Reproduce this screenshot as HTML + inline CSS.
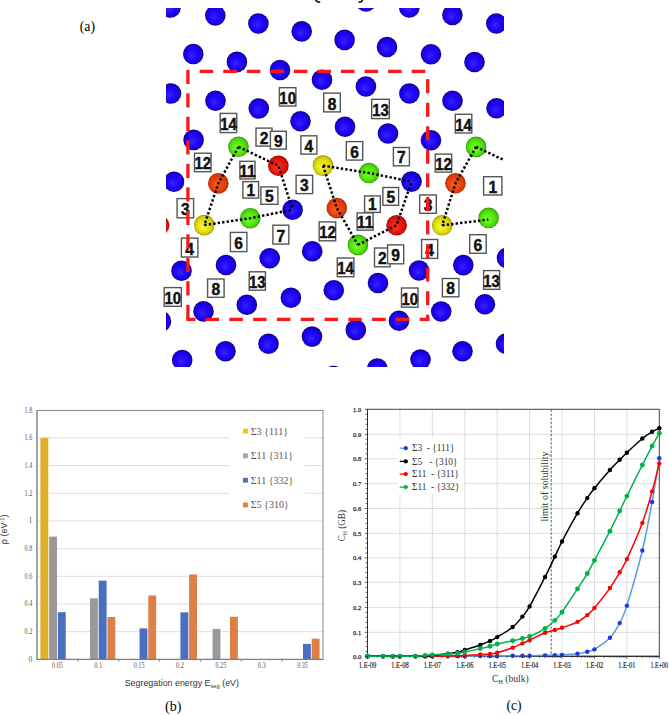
<!DOCTYPE html>
<html><head><meta charset="utf-8"><style>
html,body{margin:0;padding:0;background:#fff;}
body{width:669px;height:715px;overflow:hidden;font-family:"Liberation Sans",sans-serif;}
svg{display:block;}
</style></head><body>
<svg width="669" height="715" viewBox="0 0 669 715">
<defs>
<radialGradient id="gb" cx="0.5" cy="0.5" r="0.5" fx="0.42" fy="0.6"><stop offset="0" stop-color="#3424ff"/><stop offset="0.55" stop-color="#1f04f8"/><stop offset="0.85" stop-color="#1a00dc"/><stop offset="1" stop-color="#0e0070"/></radialGradient>
<radialGradient id="gg" cx="0.5" cy="0.5" r="0.5" fx="0.42" fy="0.6"><stop offset="0" stop-color="#72ff24"/><stop offset="0.55" stop-color="#58ea12"/><stop offset="0.85" stop-color="#46d00a"/><stop offset="1" stop-color="#2c9006"/></radialGradient>
<radialGradient id="gr" cx="0.5" cy="0.5" r="0.5" fx="0.42" fy="0.6"><stop offset="0" stop-color="#ff3a2a"/><stop offset="0.55" stop-color="#ec1a12"/><stop offset="0.85" stop-color="#d41008"/><stop offset="1" stop-color="#900800"/></radialGradient>
<radialGradient id="gy" cx="0.5" cy="0.5" r="0.5" fx="0.42" fy="0.6"><stop offset="0" stop-color="#f6f444"/><stop offset="0.55" stop-color="#e4e212"/><stop offset="0.85" stop-color="#cfcc08"/><stop offset="1" stop-color="#8e8a00"/></radialGradient>
<radialGradient id="go" cx="0.5" cy="0.5" r="0.5" fx="0.42" fy="0.6"><stop offset="0" stop-color="#ff5a22"/><stop offset="0.55" stop-color="#ec4410"/><stop offset="0.85" stop-color="#d63808"/><stop offset="1" stop-color="#9c2800"/></radialGradient>
<clipPath id="clipA"><rect x="166" y="8" width="338" height="359"/></clipPath>
</defs>
<rect x="0" y="0" width="669" height="715" fill="#fff"/>
<g clip-path="url(#clipA)">
<circle cx="170.5" cy="7.5" r="10.3" fill="url(#gb)"/>
<circle cx="215.3" cy="15.5" r="10.3" fill="url(#gb)"/>
<circle cx="258.4" cy="23.5" r="10.3" fill="url(#gb)"/>
<circle cx="301.7" cy="31.4" r="10.3" fill="url(#gb)"/>
<circle cx="344.6" cy="39.9" r="10.3" fill="url(#gb)"/>
<circle cx="387" cy="47" r="10.3" fill="url(#gb)"/>
<circle cx="431" cy="54.3" r="10.3" fill="url(#gb)"/>
<circle cx="474.5" cy="62" r="10.3" fill="url(#gb)"/>
<circle cx="366" cy="1.5" r="10.3" fill="url(#gb)"/>
<circle cx="409.3" cy="7.5" r="10.3" fill="url(#gb)"/>
<circle cx="452.4" cy="15" r="10.3" fill="url(#gb)"/>
<circle cx="496.3" cy="23.5" r="10.3" fill="url(#gb)"/>
<circle cx="193.3" cy="54" r="10.3" fill="url(#gb)"/>
<circle cx="236.9" cy="61.9" r="10.3" fill="url(#gb)"/>
<circle cx="280" cy="70" r="10.3" fill="url(#gb)"/>
<circle cx="322" cy="79.8" r="10.3" fill="url(#gb)"/>
<circle cx="365.9" cy="86.5" r="10.3" fill="url(#gb)"/>
<circle cx="409.4" cy="93.5" r="10.3" fill="url(#gb)"/>
<circle cx="452.5" cy="100.7" r="10.3" fill="url(#gb)"/>
<circle cx="496.5" cy="108.3" r="10.3" fill="url(#gb)"/>
<circle cx="171" cy="93.5" r="10.3" fill="url(#gb)"/>
<circle cx="215.5" cy="100.7" r="10.3" fill="url(#gb)"/>
<circle cx="258.8" cy="108.5" r="10.3" fill="url(#gb)"/>
<circle cx="300.5" cy="121.2" r="10.3" fill="url(#gb)"/>
<circle cx="345" cy="126.7" r="10.3" fill="url(#gb)"/>
<circle cx="388" cy="133.5" r="10.3" fill="url(#gb)"/>
<circle cx="431" cy="140.2" r="10.3" fill="url(#gb)"/>
<circle cx="193.6" cy="139.9" r="10.3" fill="url(#gb)"/>
<circle cx="174" cy="181.8" r="10.3" fill="url(#gb)"/>
<circle cx="411.5" cy="181.6" r="10.3" fill="url(#gb)"/>
<circle cx="292.6" cy="209.7" r="10.3" fill="url(#gb)"/>
<circle cx="181.5" cy="270.7" r="10.3" fill="url(#gb)"/>
<circle cx="226" cy="265" r="10.3" fill="url(#gb)"/>
<circle cx="269.7" cy="258.2" r="10.3" fill="url(#gb)"/>
<circle cx="312.2" cy="251.2" r="10.3" fill="url(#gb)"/>
<circle cx="419" cy="270.5" r="10.3" fill="url(#gb)"/>
<circle cx="463.3" cy="265.1" r="10.3" fill="url(#gb)"/>
<circle cx="507" cy="258" r="10.3" fill="url(#gb)"/>
<circle cx="161" cy="321.4" r="10.3" fill="url(#gb)"/>
<circle cx="203.5" cy="311.4" r="10.3" fill="url(#gb)"/>
<circle cx="246.8" cy="304.7" r="10.3" fill="url(#gb)"/>
<circle cx="290.9" cy="297.8" r="10.3" fill="url(#gb)"/>
<circle cx="333.8" cy="290.2" r="10.3" fill="url(#gb)"/>
<circle cx="378" cy="283" r="10.3" fill="url(#gb)"/>
<circle cx="441.2" cy="311.5" r="10.3" fill="url(#gb)"/>
<circle cx="484.9" cy="304.3" r="10.3" fill="url(#gb)"/>
<circle cx="182.2" cy="360" r="10.3" fill="url(#gb)"/>
<circle cx="225.5" cy="351.2" r="10.3" fill="url(#gb)"/>
<circle cx="268.5" cy="343.7" r="10.3" fill="url(#gb)"/>
<circle cx="312" cy="336.6" r="10.3" fill="url(#gb)"/>
<circle cx="355.8" cy="329.9" r="10.3" fill="url(#gb)"/>
<circle cx="399" cy="320.8" r="10.3" fill="url(#gb)"/>
<circle cx="420.5" cy="359.5" r="10.3" fill="url(#gb)"/>
<circle cx="462.5" cy="351.2" r="10.3" fill="url(#gb)"/>
<circle cx="506" cy="343.7" r="10.3" fill="url(#gb)"/>
<circle cx="377.3" cy="368.5" r="10.3" fill="url(#gb)"/>
<circle cx="333.5" cy="376" r="10.3" fill="url(#gb)"/>
<circle cx="238.5" cy="146.8" r="10.3" fill="url(#gg)"/>
<circle cx="278.4" cy="165.8" r="10.3" fill="url(#gr)"/>
<circle cx="323" cy="165.6" r="10.3" fill="url(#gy)"/>
<circle cx="369" cy="173" r="10.3" fill="url(#gg)"/>
<circle cx="218.3" cy="183.4" r="10.3" fill="url(#go)"/>
<circle cx="336.8" cy="208" r="10.3" fill="url(#go)"/>
<circle cx="204.3" cy="225.1" r="10.3" fill="url(#gy)"/>
<circle cx="250.2" cy="218.2" r="10.3" fill="url(#gg)"/>
<circle cx="396.6" cy="225.2" r="10.3" fill="url(#gr)"/>
<circle cx="357.9" cy="244.9" r="10.3" fill="url(#gg)"/>
<circle cx="476.1" cy="146.9" r="10.3" fill="url(#gg)"/>
<circle cx="455.5" cy="183.3" r="10.3" fill="url(#go)"/>
<circle cx="442.2" cy="225.3" r="10.3" fill="url(#gy)"/>
<circle cx="488.6" cy="217.9" r="10.3" fill="url(#gg)"/>
<circle cx="159.1" cy="225.2" r="10.3" fill="url(#gr)"/>
<path d="M238.5,146.8 L278.4,165.8 L292.6,209.7" fill="none" stroke="#000" stroke-width="2.5" stroke-dasharray="2.4 2.1"/>
<path d="M238.5,146.8 L218.3,183.4 L204.3,225.1" fill="none" stroke="#000" stroke-width="2.5" stroke-dasharray="2.4 2.1"/>
<path d="M204.3,225.1 L250.2,218.2 L292.6,209.7" fill="none" stroke="#000" stroke-width="2.5" stroke-dasharray="2.4 2.1"/>
<path d="M323,165.6 L369,173 L411.5,181.6" fill="none" stroke="#000" stroke-width="2.5" stroke-dasharray="2.4 2.1"/>
<path d="M323,165.6 L336.8,208 L357.9,244.9" fill="none" stroke="#000" stroke-width="2.5" stroke-dasharray="2.4 2.1"/>
<path d="M357.9,244.9 L396.6,225.2 L411.5,181.6" fill="none" stroke="#000" stroke-width="2.5" stroke-dasharray="2.4 2.1"/>
<path d="M476.1,146.9 L516,165.8" fill="none" stroke="#000" stroke-width="2.5" stroke-dasharray="2.4 2.1"/>
<path d="M476.1,146.9 L455.5,183.3 L442.2,225.3" fill="none" stroke="#000" stroke-width="2.5" stroke-dasharray="2.4 2.1"/>
<path d="M442.2,225.3 L488.3,219.6" fill="none" stroke="#000" stroke-width="2.5" stroke-dasharray="2.4 2.1"/>
</g>
<rect x="279.40" y="87.70" width="16.50" height="18.30" fill="#fff" stroke="#555" stroke-width="1.4"/>
<text x="279.35" y="103.60" font-family='"Liberation Sans", sans-serif' font-weight="bold" font-size="16.8" fill="#111" stroke="#111" stroke-width="0.45" textLength="16.6" lengthAdjust="spacingAndGlyphs">10</text>
<rect x="323.70" y="93.10" width="16.60" height="18.80" fill="#fff" stroke="#555" stroke-width="1.4"/>
<text x="327.65" y="109.50" font-family='"Liberation Sans", sans-serif' font-weight="bold" font-size="16.8" fill="#111" stroke="#111" stroke-width="0.45" textLength="8.7" lengthAdjust="spacingAndGlyphs">8</text>
<rect x="371.70" y="99.30" width="17.60" height="19.30" fill="#fff" stroke="#555" stroke-width="1.4"/>
<text x="372.20" y="116.20" font-family='"Liberation Sans", sans-serif' font-weight="bold" font-size="16.8" fill="#111" stroke="#111" stroke-width="0.45" textLength="16.6" lengthAdjust="spacingAndGlyphs">13</text>
<rect x="220.20" y="113.40" width="16.50" height="19.20" fill="#fff" stroke="#555" stroke-width="1.4"/>
<text x="220.15" y="130.20" font-family='"Liberation Sans", sans-serif' font-weight="bold" font-size="16.8" fill="#111" stroke="#111" stroke-width="0.45" textLength="16.6" lengthAdjust="spacingAndGlyphs">14</text>
<rect x="256.00" y="128.10" width="16.00" height="18.00" fill="#fff" stroke="#555" stroke-width="1.4"/>
<text x="259.65" y="143.70" font-family='"Liberation Sans", sans-serif' font-weight="bold" font-size="16.8" fill="#111" stroke="#111" stroke-width="0.45" textLength="8.7" lengthAdjust="spacingAndGlyphs">2</text>
<rect x="270.40" y="131.30" width="15.90" height="17.80" fill="#fff" stroke="#555" stroke-width="1.4"/>
<text x="274.00" y="146.70" font-family='"Liberation Sans", sans-serif' font-weight="bold" font-size="16.8" fill="#111" stroke="#111" stroke-width="0.45" textLength="8.7" lengthAdjust="spacingAndGlyphs">9</text>
<rect x="300.90" y="135.80" width="16.00" height="18.30" fill="#fff" stroke="#555" stroke-width="1.4"/>
<text x="304.55" y="151.70" font-family='"Liberation Sans", sans-serif' font-weight="bold" font-size="16.8" fill="#111" stroke="#111" stroke-width="0.45" textLength="8.7" lengthAdjust="spacingAndGlyphs">4</text>
<rect x="346.30" y="141.60" width="16.40" height="18.50" fill="#fff" stroke="#555" stroke-width="1.4"/>
<text x="350.15" y="157.70" font-family='"Liberation Sans", sans-serif' font-weight="bold" font-size="16.8" fill="#111" stroke="#111" stroke-width="0.45" textLength="8.7" lengthAdjust="spacingAndGlyphs">6</text>
<rect x="393.40" y="147.50" width="16.00" height="18.30" fill="#fff" stroke="#555" stroke-width="1.4"/>
<text x="397.05" y="163.40" font-family='"Liberation Sans", sans-serif' font-weight="bold" font-size="16.8" fill="#111" stroke="#111" stroke-width="0.45" textLength="8.7" lengthAdjust="spacingAndGlyphs">7</text>
<rect x="194.50" y="153.20" width="16.50" height="18.50" fill="#fff" stroke="#555" stroke-width="1.4"/>
<text x="194.45" y="169.30" font-family='"Liberation Sans", sans-serif' font-weight="bold" font-size="16.8" fill="#111" stroke="#111" stroke-width="0.45" textLength="16.6" lengthAdjust="spacingAndGlyphs">12</text>
<rect x="239.90" y="161.30" width="15.10" height="17.60" fill="#fff" stroke="#555" stroke-width="1.4"/>
<text x="239.15" y="176.50" font-family='"Liberation Sans", sans-serif' font-weight="bold" font-size="16.8" fill="#111" stroke="#111" stroke-width="0.45" textLength="16.6" lengthAdjust="spacingAndGlyphs">11</text>
<rect x="242.90" y="181.60" width="15.70" height="16.50" fill="#fff" stroke="#555" stroke-width="1.4"/>
<text x="246.40" y="195.70" font-family='"Liberation Sans", sans-serif' font-weight="bold" font-size="16.8" fill="#111" stroke="#111" stroke-width="0.45" textLength="8.7" lengthAdjust="spacingAndGlyphs">1</text>
<rect x="260.90" y="186.90" width="17.00" height="17.40" fill="#fff" stroke="#555" stroke-width="1.4"/>
<text x="265.05" y="201.90" font-family='"Liberation Sans", sans-serif' font-weight="bold" font-size="16.8" fill="#111" stroke="#111" stroke-width="0.45" textLength="8.7" lengthAdjust="spacingAndGlyphs">5</text>
<rect x="177.10" y="198.60" width="16.50" height="19.20" fill="#fff" stroke="#555" stroke-width="1.4"/>
<text x="181.00" y="215.40" font-family='"Liberation Sans", sans-serif' font-weight="bold" font-size="16.8" fill="#111" stroke="#111" stroke-width="0.45" textLength="8.7" lengthAdjust="spacingAndGlyphs">3</text>
<rect x="296.10" y="175.30" width="16.50" height="18.30" fill="#fff" stroke="#555" stroke-width="1.4"/>
<text x="300.00" y="191.20" font-family='"Liberation Sans", sans-serif' font-weight="bold" font-size="16.8" fill="#111" stroke="#111" stroke-width="0.45" textLength="8.7" lengthAdjust="spacingAndGlyphs">3</text>
<rect x="364.60" y="195.90" width="15.70" height="16.50" fill="#fff" stroke="#555" stroke-width="1.4"/>
<text x="368.10" y="210.00" font-family='"Liberation Sans", sans-serif' font-weight="bold" font-size="16.8" fill="#111" stroke="#111" stroke-width="0.45" textLength="8.7" lengthAdjust="spacingAndGlyphs">1</text>
<rect x="382.90" y="187.50" width="15.70" height="17.80" fill="#fff" stroke="#555" stroke-width="1.4"/>
<text x="386.40" y="202.90" font-family='"Liberation Sans", sans-serif' font-weight="bold" font-size="16.8" fill="#111" stroke="#111" stroke-width="0.45" textLength="8.7" lengthAdjust="spacingAndGlyphs">5</text>
<rect x="357.10" y="212.90" width="16.00" height="17.20" fill="#fff" stroke="#555" stroke-width="1.4"/>
<text x="356.80" y="227.70" font-family='"Liberation Sans", sans-serif' font-weight="bold" font-size="16.8" fill="#111" stroke="#111" stroke-width="0.45" textLength="16.6" lengthAdjust="spacingAndGlyphs">11</text>
<rect x="319.20" y="221.90" width="16.50" height="18.90" fill="#fff" stroke="#555" stroke-width="1.4"/>
<text x="319.15" y="238.40" font-family='"Liberation Sans", sans-serif' font-weight="bold" font-size="16.8" fill="#111" stroke="#111" stroke-width="0.45" textLength="16.6" lengthAdjust="spacingAndGlyphs">12</text>
<rect x="455.30" y="114.30" width="16.50" height="18.70" fill="#fff" stroke="#555" stroke-width="1.4"/>
<text x="455.25" y="130.60" font-family='"Liberation Sans", sans-serif' font-weight="bold" font-size="16.8" fill="#111" stroke="#111" stroke-width="0.45" textLength="16.6" lengthAdjust="spacingAndGlyphs">14</text>
<rect x="435.20" y="154.10" width="16.50" height="18.00" fill="#fff" stroke="#555" stroke-width="1.4"/>
<text x="435.15" y="169.70" font-family='"Liberation Sans", sans-serif' font-weight="bold" font-size="16.8" fill="#111" stroke="#111" stroke-width="0.45" textLength="16.6" lengthAdjust="spacingAndGlyphs">12</text>
<rect x="483.60" y="176.70" width="18.30" height="18.30" fill="#fff" stroke="#555" stroke-width="1.4"/>
<text x="488.40" y="192.60" font-family='"Liberation Sans", sans-serif' font-weight="bold" font-size="16.8" fill="#111" stroke="#111" stroke-width="0.45" textLength="8.7" lengthAdjust="spacingAndGlyphs">1</text>
<rect x="419.70" y="195.00" width="16.60" height="18.30" fill="#fff" stroke="#555" stroke-width="1.4"/>
<text x="423.65" y="210.90" font-family='"Liberation Sans", sans-serif' font-weight="bold" font-size="16.8" fill="#111" stroke="#111" stroke-width="0.45" textLength="8.7" lengthAdjust="spacingAndGlyphs">3</text>
<rect x="181.40" y="238.10" width="16.50" height="18.90" fill="#fff" stroke="#555" stroke-width="1.4"/>
<text x="185.30" y="254.60" font-family='"Liberation Sans", sans-serif' font-weight="bold" font-size="16.8" fill="#111" stroke="#111" stroke-width="0.45" textLength="8.7" lengthAdjust="spacingAndGlyphs">4</text>
<rect x="230.40" y="232.40" width="16.50" height="19.20" fill="#fff" stroke="#555" stroke-width="1.4"/>
<text x="234.30" y="249.20" font-family='"Liberation Sans", sans-serif' font-weight="bold" font-size="16.8" fill="#111" stroke="#111" stroke-width="0.45" textLength="8.7" lengthAdjust="spacingAndGlyphs">6</text>
<rect x="272.90" y="225.20" width="15.90" height="18.90" fill="#fff" stroke="#555" stroke-width="1.4"/>
<text x="276.50" y="241.70" font-family='"Liberation Sans", sans-serif' font-weight="bold" font-size="16.8" fill="#111" stroke="#111" stroke-width="0.45" textLength="8.7" lengthAdjust="spacingAndGlyphs">7</text>
<rect x="207.60" y="279.00" width="16.50" height="18.30" fill="#fff" stroke="#555" stroke-width="1.4"/>
<text x="211.50" y="294.90" font-family='"Liberation Sans", sans-serif' font-weight="bold" font-size="16.8" fill="#111" stroke="#111" stroke-width="0.45" textLength="8.7" lengthAdjust="spacingAndGlyphs">8</text>
<rect x="249.20" y="271.80" width="16.20" height="18.40" fill="#fff" stroke="#555" stroke-width="1.4"/>
<text x="249.00" y="287.80" font-family='"Liberation Sans", sans-serif' font-weight="bold" font-size="16.8" fill="#111" stroke="#111" stroke-width="0.45" textLength="16.6" lengthAdjust="spacingAndGlyphs">13</text>
<rect x="164.20" y="287.60" width="17.10" height="18.70" fill="#fff" stroke="#555" stroke-width="1.4"/>
<text x="164.45" y="303.90" font-family='"Liberation Sans", sans-serif' font-weight="bold" font-size="16.8" fill="#111" stroke="#111" stroke-width="0.45" textLength="16.6" lengthAdjust="spacingAndGlyphs">10</text>
<rect x="337.30" y="258.00" width="16.60" height="18.70" fill="#fff" stroke="#555" stroke-width="1.4"/>
<text x="337.30" y="274.30" font-family='"Liberation Sans", sans-serif' font-weight="bold" font-size="16.8" fill="#111" stroke="#111" stroke-width="0.45" textLength="16.6" lengthAdjust="spacingAndGlyphs">14</text>
<rect x="374.50" y="248.00" width="15.60" height="18.80" fill="#fff" stroke="#555" stroke-width="1.4"/>
<text x="377.95" y="264.40" font-family='"Liberation Sans", sans-serif' font-weight="bold" font-size="16.8" fill="#111" stroke="#111" stroke-width="0.45" textLength="8.7" lengthAdjust="spacingAndGlyphs">2</text>
<rect x="387.60" y="244.90" width="16.10" height="18.90" fill="#fff" stroke="#555" stroke-width="1.4"/>
<text x="391.30" y="261.40" font-family='"Liberation Sans", sans-serif' font-weight="bold" font-size="16.8" fill="#111" stroke="#111" stroke-width="0.45" textLength="8.7" lengthAdjust="spacingAndGlyphs">9</text>
<rect x="421.60" y="239.50" width="16.10" height="18.90" fill="#fff" stroke="#555" stroke-width="1.4"/>
<text x="425.30" y="256.00" font-family='"Liberation Sans", sans-serif' font-weight="bold" font-size="16.8" fill="#111" stroke="#111" stroke-width="0.45" textLength="8.7" lengthAdjust="spacingAndGlyphs">4</text>
<rect x="469.70" y="234.70" width="16.50" height="18.60" fill="#fff" stroke="#555" stroke-width="1.4"/>
<text x="473.60" y="250.90" font-family='"Liberation Sans", sans-serif' font-weight="bold" font-size="16.8" fill="#111" stroke="#111" stroke-width="0.45" textLength="8.7" lengthAdjust="spacingAndGlyphs">6</text>
<rect x="442.40" y="278.50" width="16.50" height="18.30" fill="#fff" stroke="#555" stroke-width="1.4"/>
<text x="446.30" y="294.40" font-family='"Liberation Sans", sans-serif' font-weight="bold" font-size="16.8" fill="#111" stroke="#111" stroke-width="0.45" textLength="8.7" lengthAdjust="spacingAndGlyphs">8</text>
<rect x="483.60" y="270.60" width="16.00" height="18.70" fill="#fff" stroke="#555" stroke-width="1.4"/>
<text x="483.30" y="286.90" font-family='"Liberation Sans", sans-serif' font-weight="bold" font-size="16.8" fill="#111" stroke="#111" stroke-width="0.45" textLength="16.6" lengthAdjust="spacingAndGlyphs">13</text>
<rect x="401.50" y="288.00" width="16.50" height="19.20" fill="#fff" stroke="#555" stroke-width="1.4"/>
<text x="401.45" y="304.80" font-family='"Liberation Sans", sans-serif' font-weight="bold" font-size="16.8" fill="#111" stroke="#111" stroke-width="0.45" textLength="16.6" lengthAdjust="spacingAndGlyphs">10</text>
<g stroke="#f51a1a" stroke-width="3.3" fill="none">
<line x1="187.9" y1="69.8" x2="187.9" y2="84.0"/>
<line x1="187.9" y1="93.3" x2="187.9" y2="107.5"/>
<line x1="187.9" y1="116.8" x2="187.9" y2="131.0"/>
<line x1="187.9" y1="140.3" x2="187.9" y2="154.5"/>
<line x1="187.9" y1="163.8" x2="187.9" y2="178.0"/>
<line x1="187.9" y1="187.3" x2="187.9" y2="201.5"/>
<line x1="187.9" y1="210.8" x2="187.9" y2="225.0"/>
<line x1="187.9" y1="234.3" x2="187.9" y2="248.5"/>
<line x1="187.9" y1="257.8" x2="187.9" y2="272.0"/>
<line x1="187.9" y1="281.3" x2="187.9" y2="295.5"/>
<line x1="187.9" y1="304.8" x2="187.9" y2="319.0"/>
<line x1="199.7" y1="71.4" x2="213.2" y2="71.4"/>
<line x1="223.2" y1="71.4" x2="236.8" y2="71.4"/>
<line x1="246.8" y1="71.4" x2="260.3" y2="71.4"/>
<line x1="270.4" y1="71.4" x2="283.9" y2="71.4"/>
<line x1="293.9" y1="71.4" x2="307.4" y2="71.4"/>
<line x1="317.5" y1="71.4" x2="331.0" y2="71.4"/>
<line x1="341.0" y1="71.4" x2="354.5" y2="71.4"/>
<line x1="364.6" y1="71.4" x2="378.1" y2="71.4"/>
<line x1="388.1" y1="71.4" x2="401.6" y2="71.4"/>
<line x1="411.7" y1="71.4" x2="425.2" y2="71.4"/>
<line x1="427.7" y1="79.2" x2="427.7" y2="93.2"/>
<line x1="427.7" y1="102.8" x2="427.7" y2="116.8"/>
<line x1="427.7" y1="126.3" x2="427.7" y2="140.3"/>
<line x1="427.7" y1="149.8" x2="427.7" y2="163.8"/>
<line x1="427.7" y1="173.4" x2="427.7" y2="187.4"/>
<line x1="427.7" y1="197.0" x2="427.7" y2="211.0"/>
<line x1="427.7" y1="220.5" x2="427.7" y2="234.5"/>
<line x1="427.7" y1="244.1" x2="427.7" y2="258.1"/>
<line x1="427.7" y1="267.6" x2="427.7" y2="281.6"/>
<line x1="427.7" y1="291.2" x2="427.7" y2="305.2"/>
<line x1="427.7" y1="314.7" x2="427.7" y2="320.9"/>
<line x1="205.5" y1="319.4" x2="219.0" y2="319.4"/>
<line x1="229.3" y1="319.4" x2="242.8" y2="319.4"/>
<line x1="253.1" y1="319.4" x2="266.6" y2="319.4"/>
<line x1="276.9" y1="319.4" x2="290.4" y2="319.4"/>
<line x1="300.7" y1="319.4" x2="314.2" y2="319.4"/>
<line x1="324.5" y1="319.4" x2="338.0" y2="319.4"/>
<line x1="348.3" y1="319.4" x2="361.8" y2="319.4"/>
<line x1="372.1" y1="319.4" x2="385.6" y2="319.4"/>
<line x1="395.9" y1="319.4" x2="409.4" y2="319.4"/>
<line x1="419.7" y1="319.4" x2="429.3" y2="319.4"/>
<line x1="186.4" y1="319.4" x2="195.5" y2="319.4"/>
</g>
<text x="79.70" y="30.80" font-family='"Liberation Serif", serif' font-size="14.5" fill="#000" textLength="15.30" lengthAdjust="spacingAndGlyphs" >(a)</text>
<line x1="37.0" y1="631.71" x2="323.0" y2="631.71" stroke="#d9d9d9" stroke-width="0.9"/>
<line x1="37.0" y1="604.02" x2="323.0" y2="604.02" stroke="#d9d9d9" stroke-width="0.9"/>
<line x1="37.0" y1="576.33" x2="323.0" y2="576.33" stroke="#d9d9d9" stroke-width="0.9"/>
<line x1="37.0" y1="548.64" x2="323.0" y2="548.64" stroke="#d9d9d9" stroke-width="0.9"/>
<line x1="37.0" y1="520.96" x2="323.0" y2="520.96" stroke="#d9d9d9" stroke-width="0.9"/>
<line x1="37.0" y1="493.27" x2="323.0" y2="493.27" stroke="#d9d9d9" stroke-width="0.9"/>
<line x1="37.0" y1="465.58" x2="323.0" y2="465.58" stroke="#d9d9d9" stroke-width="0.9"/>
<line x1="37.0" y1="437.89" x2="323.0" y2="437.89" stroke="#d9d9d9" stroke-width="0.9"/>
<rect x="229.4" y="418" width="75.2" height="100" fill="#fff"/>
<rect x="40.40" y="437.89" width="7.9" height="221.51" fill="#e0b02a"/>
<rect x="49.12" y="536.60" width="7.9" height="122.80" fill="#999999"/>
<rect x="57.84" y="612.19" width="7.9" height="47.21" fill="#4a6fbf"/>
<rect x="89.98" y="598.35" width="7.9" height="61.05" fill="#999999"/>
<rect x="98.70" y="580.63" width="7.9" height="78.77" fill="#4a6fbf"/>
<rect x="107.42" y="617.04" width="7.9" height="42.36" fill="#dc8048"/>
<rect x="139.55" y="628.39" width="7.9" height="31.01" fill="#4a6fbf"/>
<rect x="148.27" y="595.44" width="7.9" height="63.96" fill="#dc8048"/>
<rect x="180.41" y="612.33" width="7.9" height="47.07" fill="#4a6fbf"/>
<rect x="189.13" y="574.40" width="7.9" height="85.00" fill="#dc8048"/>
<rect x="212.55" y="628.94" width="7.9" height="30.46" fill="#999999"/>
<rect x="229.99" y="616.76" width="7.9" height="42.64" fill="#dc8048"/>
<rect x="302.98" y="643.89" width="7.9" height="15.51" fill="#4a6fbf"/>
<rect x="311.70" y="638.63" width="7.9" height="20.77" fill="#dc8048"/>
<rect x="37.0" y="410.4" width="286.0" height="249.2" fill="none" stroke="#7a7a7a" stroke-width="0.9"/>
<line x1="36.9" y1="410.2" x2="36.9" y2="659.4" stroke="#8a8a8a" stroke-width="1.1"/>
<line x1="37.0" y1="659.4" x2="323.0" y2="659.4" stroke="#7f7f7f" stroke-width="1.4"/>
<line x1="77.86" y1="659.4" x2="77.86" y2="661.6" stroke="#7f7f7f" stroke-width="1"/>
<line x1="118.71" y1="659.4" x2="118.71" y2="661.6" stroke="#7f7f7f" stroke-width="1"/>
<line x1="159.57" y1="659.4" x2="159.57" y2="661.6" stroke="#7f7f7f" stroke-width="1"/>
<line x1="200.43" y1="659.4" x2="200.43" y2="661.6" stroke="#7f7f7f" stroke-width="1"/>
<line x1="241.29" y1="659.4" x2="241.29" y2="661.6" stroke="#7f7f7f" stroke-width="1"/>
<line x1="282.14" y1="659.4" x2="282.14" y2="661.6" stroke="#7f7f7f" stroke-width="1"/>
<text x="32.40" y="661.80" font-family='"Liberation Serif", serif' font-size="7.6" fill="#555" text-anchor="end" >0</text>
<text x="24.60" y="634.11" font-family='"Liberation Serif", serif' font-size="7.6" fill="#555" textLength="7.80" lengthAdjust="spacingAndGlyphs" >0.2</text>
<text x="24.60" y="606.42" font-family='"Liberation Serif", serif' font-size="7.6" fill="#555" textLength="7.80" lengthAdjust="spacingAndGlyphs" >0.4</text>
<text x="24.60" y="578.73" font-family='"Liberation Serif", serif' font-size="7.6" fill="#555" textLength="7.80" lengthAdjust="spacingAndGlyphs" >0.6</text>
<text x="24.60" y="551.04" font-family='"Liberation Serif", serif' font-size="7.6" fill="#555" textLength="7.80" lengthAdjust="spacingAndGlyphs" >0.8</text>
<text x="32.40" y="523.36" font-family='"Liberation Serif", serif' font-size="7.6" fill="#555" text-anchor="end" >1</text>
<text x="24.60" y="495.67" font-family='"Liberation Serif", serif' font-size="7.6" fill="#555" textLength="7.80" lengthAdjust="spacingAndGlyphs" >1.2</text>
<text x="24.60" y="467.98" font-family='"Liberation Serif", serif' font-size="7.6" fill="#555" textLength="7.80" lengthAdjust="spacingAndGlyphs" >1.4</text>
<text x="24.60" y="440.29" font-family='"Liberation Serif", serif' font-size="7.6" fill="#555" textLength="7.80" lengthAdjust="spacingAndGlyphs" >1.6</text>
<text x="24.60" y="412.60" font-family='"Liberation Serif", serif' font-size="7.6" fill="#555" textLength="7.80" lengthAdjust="spacingAndGlyphs" >1.8</text>
<text x="52.08" y="668.40" font-family='"Liberation Serif", serif' font-size="7.4" fill="#555" textLength="10.70" lengthAdjust="spacingAndGlyphs" >0.05</text>
<text x="94.29" y="668.40" font-family='"Liberation Serif", serif' font-size="7.4" fill="#555" textLength="8.00" lengthAdjust="spacingAndGlyphs" >0.1</text>
<text x="133.79" y="668.40" font-family='"Liberation Serif", serif' font-size="7.4" fill="#555" textLength="10.70" lengthAdjust="spacingAndGlyphs" >0.15</text>
<text x="176.00" y="668.40" font-family='"Liberation Serif", serif' font-size="7.4" fill="#555" textLength="8.00" lengthAdjust="spacingAndGlyphs" >0.2</text>
<text x="215.51" y="668.40" font-family='"Liberation Serif", serif' font-size="7.4" fill="#555" textLength="10.70" lengthAdjust="spacingAndGlyphs" >0.25</text>
<text x="257.71" y="668.40" font-family='"Liberation Serif", serif' font-size="7.4" fill="#555" textLength="8.00" lengthAdjust="spacingAndGlyphs" >0.3</text>
<text x="297.22" y="668.40" font-family='"Liberation Serif", serif' font-size="7.4" fill="#555" textLength="10.70" lengthAdjust="spacingAndGlyphs" >0.35</text>
<rect x="243" y="428.7" width="4.9" height="4.8" fill="#ffc000"/>
<text x="250.80" y="434.50" font-family='"Liberation Serif", serif' font-size="10" fill="#595959" >Σ3 {111}</text>
<rect x="243" y="453.4" width="4.9" height="4.8" fill="#a5a5a5"/>
<text x="250.80" y="459.20" font-family='"Liberation Serif", serif' font-size="10" fill="#595959" >Σ11 {311}</text>
<rect x="243" y="477.8" width="4.9" height="4.8" fill="#4472c4"/>
<text x="250.80" y="483.60" font-family='"Liberation Serif", serif' font-size="10" fill="#595959" >Σ11 {332}</text>
<rect x="243" y="502.5" width="4.9" height="4.8" fill="#ed7d31"/>
<text x="250.80" y="508.30" font-family='"Liberation Serif", serif' font-size="10" fill="#595959" >Σ5 {310}</text>
<g transform="translate(124.7,685.9) scale(0.955,1)"><text x="0" y="0" font-family='"Liberation Sans", sans-serif' font-size="9.3" fill="#333">Segregation energy E<tspan font-size="6" dy="2">seg</tspan><tspan dy="-2"> (eV)</tspan></text></g>
<text transform="translate(7.0,544.2) rotate(-90) scale(0.94,1)" font-family='"Liberation Sans", sans-serif' font-size="9.6" fill="#333">ρ (eV<tspan font-size="6" dy="-3.5">-1</tspan><tspan dy="3.5">)</tspan></text>
<text x="165.00" y="710.80" font-family='"Liberation Serif", serif' font-size="13.8" fill="#000" textLength="16.30" lengthAdjust="spacingAndGlyphs" >(b)</text>
<line x1="399.92" y1="409.3" x2="399.92" y2="656.3" stroke="#d9d9d9" stroke-width="0.9"/>
<line x1="432.34" y1="409.3" x2="432.34" y2="656.3" stroke="#d9d9d9" stroke-width="0.9"/>
<line x1="464.77" y1="409.3" x2="464.77" y2="656.3" stroke="#d9d9d9" stroke-width="0.9"/>
<line x1="497.19" y1="409.3" x2="497.19" y2="656.3" stroke="#d9d9d9" stroke-width="0.9"/>
<line x1="529.61" y1="409.3" x2="529.61" y2="656.3" stroke="#d9d9d9" stroke-width="0.9"/>
<line x1="562.03" y1="409.3" x2="562.03" y2="656.3" stroke="#d9d9d9" stroke-width="0.9"/>
<line x1="594.46" y1="409.3" x2="594.46" y2="656.3" stroke="#d9d9d9" stroke-width="0.9"/>
<line x1="626.88" y1="409.3" x2="626.88" y2="656.3" stroke="#d9d9d9" stroke-width="0.9"/>
<line x1="367.5" y1="632.30" x2="659.3" y2="632.30" stroke="#d9d9d9" stroke-width="0.9"/>
<line x1="367.5" y1="607.40" x2="659.3" y2="607.40" stroke="#d9d9d9" stroke-width="0.9"/>
<line x1="367.5" y1="582.30" x2="659.3" y2="582.30" stroke="#d9d9d9" stroke-width="0.9"/>
<line x1="367.5" y1="557.90" x2="659.3" y2="557.90" stroke="#d9d9d9" stroke-width="0.9"/>
<line x1="367.5" y1="533.40" x2="659.3" y2="533.40" stroke="#d9d9d9" stroke-width="0.9"/>
<line x1="367.5" y1="508.50" x2="659.3" y2="508.50" stroke="#d9d9d9" stroke-width="0.9"/>
<line x1="367.5" y1="483.70" x2="659.3" y2="483.70" stroke="#d9d9d9" stroke-width="0.9"/>
<line x1="367.5" y1="458.80" x2="659.3" y2="458.80" stroke="#d9d9d9" stroke-width="0.9"/>
<line x1="367.5" y1="434.30" x2="659.3" y2="434.30" stroke="#d9d9d9" stroke-width="0.9"/>
<rect x="397.5" y="437.5" width="65.7" height="56.8" fill="#fff"/>
<line x1="551.2" y1="409.3" x2="551.2" y2="656.3" stroke="#444" stroke-width="0.85" stroke-dasharray="2.6 1.5"/>
<text transform="translate(547.9,521.5) rotate(-90)" font-family='"Liberation Serif", serif' font-size="10" fill="#333" textLength="70" lengthAdjust="spacingAndGlyphs">limit of solubility</text>
<rect x="367.5" y="409.3" width="291.79999999999995" height="246.99999999999994" fill="none" stroke="#404040" stroke-width="1"/>
<line x1="367.5" y1="409.3" x2="367.5" y2="656.3" stroke="#333" stroke-width="1.0"/>
<line x1="367.5" y1="656.3" x2="659.3" y2="656.3" stroke="#333" stroke-width="1.2"/>
<path d="M367.50,656.30 C370.08,656.30 378.76,656.30 382.97,656.30 C387.17,656.30 389.90,656.30 392.73,656.30 C395.55,656.30 396.15,656.30 399.92,656.30 C403.70,656.30 411.19,656.30 415.39,656.30 C419.60,656.30 422.33,656.30 425.15,656.30 C427.98,656.30 428.57,656.30 432.34,656.30 C436.12,656.30 443.61,656.30 447.81,656.30 C452.02,656.30 454.75,656.30 457.57,656.30 C460.40,656.30 460.99,656.34 464.77,656.30 C468.54,656.26 476.03,656.10 480.24,656.06 C484.44,656.02 487.17,656.06 490.00,656.06 C492.82,656.06 493.41,656.10 497.19,656.06 C500.97,656.02 508.45,655.86 512.66,655.82 C516.86,655.78 519.59,655.82 522.42,655.82 C525.24,655.82 525.83,655.90 529.61,655.82 C533.39,655.74 540.88,655.46 545.08,655.34 C549.29,655.22 552.02,655.18 554.84,655.10 C557.67,655.02 558.26,655.10 562.03,654.86 C565.81,654.62 573.30,654.18 577.50,653.66 C581.71,653.14 584.44,652.46 587.26,651.74 C590.09,651.02 590.68,651.66 594.46,649.34 C598.23,647.02 605.72,642.20 609.92,637.82 C614.13,633.44 616.86,628.45 619.68,623.09 C622.51,617.72 623.10,617.73 626.88,605.64 C630.65,593.55 638.14,567.82 642.35,550.55 C646.55,533.28 649.28,517.43 652.11,502.05 C654.93,486.68 658.10,465.60 659.30,458.31" fill="none" stroke="#5b9bd5" stroke-width="1.5"/>
<path d="M367.50,656.30 C370.08,656.30 378.76,656.30 382.97,656.30 C387.17,656.30 389.90,656.30 392.73,656.30 C395.55,656.30 396.15,656.30 399.92,656.30 C403.70,656.30 411.19,656.30 415.39,656.30 C419.60,656.30 422.33,656.30 425.15,656.30 C427.98,656.30 428.57,656.34 432.34,656.30 C436.12,656.26 443.61,656.14 447.81,656.06 C452.02,655.98 454.75,655.90 457.57,655.82 C460.40,655.74 460.99,655.82 464.77,655.58 C468.54,655.34 476.03,654.66 480.24,654.38 C484.44,654.10 487.17,654.18 490.00,653.90 C492.82,653.62 493.41,653.74 497.19,652.70 C500.97,651.66 508.45,649.22 512.66,647.66 C516.86,646.10 519.59,644.58 522.42,643.34 C525.24,642.10 525.83,641.98 529.61,640.22 C533.39,638.46 540.88,634.47 545.08,632.78 C549.29,631.09 552.02,630.89 554.84,630.06 C557.67,629.23 558.26,629.19 562.03,627.82 C565.81,626.45 573.30,623.96 577.50,621.84 C581.71,619.73 584.44,617.44 587.26,615.12 C590.09,612.79 590.68,612.41 594.46,607.90 C598.23,603.39 605.72,594.01 609.92,588.07 C614.13,582.14 616.86,577.12 619.68,572.30 C622.51,567.47 623.10,567.35 626.88,559.12 C630.65,550.89 638.14,534.23 642.35,522.94 C646.55,511.65 649.28,501.29 652.11,491.39 C654.93,481.49 658.10,468.17 659.30,463.53" fill="none" stroke="#ff0000" stroke-width="1.5"/>
<path d="M367.50,656.30 C370.08,656.30 378.76,656.30 382.97,656.30 C387.17,656.30 389.90,656.30 392.73,656.30 C395.55,656.30 396.15,656.30 399.92,656.30 C403.70,656.30 411.19,656.34 415.39,656.30 C419.60,656.26 422.33,656.22 425.15,656.06 C427.98,655.90 428.57,655.74 432.34,655.34 C436.12,654.94 443.61,654.18 447.81,653.66 C452.02,653.14 454.75,652.82 457.57,652.22 C460.40,651.62 460.99,651.26 464.77,650.06 C468.54,648.86 476.03,646.54 480.24,645.02 C484.44,643.50 487.17,642.26 490.00,640.94 C492.82,639.62 493.41,639.41 497.19,637.10 C500.97,634.79 508.45,630.49 512.66,627.07 C516.86,623.66 519.59,620.06 522.42,616.61 C525.24,613.17 525.83,613.01 529.61,606.40 C533.39,599.78 540.88,585.22 545.08,576.93 C549.29,568.65 552.02,562.58 554.84,556.67 C557.67,550.77 558.26,548.73 562.03,541.49 C565.81,534.24 573.30,520.46 577.50,513.23 C581.71,506.00 584.44,502.26 587.26,498.08 C590.09,493.91 590.68,492.84 594.46,488.16 C598.23,483.48 605.72,474.73 609.92,470.00 C614.13,465.28 616.86,462.68 619.68,459.80 C622.51,456.91 623.10,456.23 626.88,452.68 C630.65,449.12 638.14,441.94 642.35,438.47 C646.55,434.99 649.28,433.49 652.11,431.80 C654.93,430.11 658.10,428.88 659.30,428.30" fill="none" stroke="#000000" stroke-width="1.5"/>
<path d="M367.50,656.30 C370.08,656.30 378.76,656.30 382.97,656.30 C387.17,656.30 389.90,656.30 392.73,656.30 C395.55,656.30 396.15,656.30 399.92,656.30 C403.70,656.30 411.19,656.46 415.39,656.30 C419.60,656.14 422.33,655.58 425.15,655.34 C427.98,655.10 428.57,655.06 432.34,654.86 C436.12,654.66 443.61,654.42 447.81,654.14 C452.02,653.86 454.75,653.54 457.57,653.18 C460.40,652.82 460.99,652.74 464.77,651.98 C468.54,651.22 476.03,649.58 480.24,648.62 C484.44,647.66 487.17,646.98 490.00,646.22 C492.82,645.46 493.41,644.98 497.19,644.06 C500.97,643.14 508.45,641.62 512.66,640.70 C516.86,639.78 519.59,639.26 522.42,638.54 C525.24,637.82 525.83,638.04 529.61,636.38 C533.39,634.72 540.88,631.24 545.08,628.56 C549.29,625.89 552.02,623.09 554.84,620.35 C557.67,617.61 558.26,617.38 562.03,612.13 C565.81,606.88 573.30,595.26 577.50,588.83 C581.71,582.39 584.44,578.26 587.26,573.52 C590.09,568.77 590.68,567.40 594.46,560.34 C598.23,553.28 605.72,539.38 609.92,531.16 C614.13,522.93 616.86,516.83 619.68,510.99 C622.51,505.15 623.10,503.76 626.88,496.10 C630.65,488.44 638.14,473.37 642.35,465.02 C646.55,456.68 649.28,451.35 652.11,446.06 C654.93,440.77 658.10,435.43 659.30,433.30" fill="none" stroke="#00b050" stroke-width="1.5"/>
<circle cx="367.50" cy="656.30" r="2.2" fill="#2036e0"/>
<circle cx="382.97" cy="656.30" r="2.2" fill="#2036e0"/>
<circle cx="392.73" cy="656.30" r="2.2" fill="#2036e0"/>
<circle cx="399.92" cy="656.30" r="2.2" fill="#2036e0"/>
<circle cx="415.39" cy="656.30" r="2.2" fill="#2036e0"/>
<circle cx="425.15" cy="656.30" r="2.2" fill="#2036e0"/>
<circle cx="432.34" cy="656.30" r="2.2" fill="#2036e0"/>
<circle cx="447.81" cy="656.30" r="2.2" fill="#2036e0"/>
<circle cx="457.57" cy="656.30" r="2.2" fill="#2036e0"/>
<circle cx="464.77" cy="656.30" r="2.2" fill="#2036e0"/>
<circle cx="480.24" cy="656.06" r="2.2" fill="#2036e0"/>
<circle cx="490.00" cy="656.06" r="2.2" fill="#2036e0"/>
<circle cx="497.19" cy="656.06" r="2.2" fill="#2036e0"/>
<circle cx="512.66" cy="655.82" r="2.2" fill="#2036e0"/>
<circle cx="522.42" cy="655.82" r="2.2" fill="#2036e0"/>
<circle cx="529.61" cy="655.82" r="2.2" fill="#2036e0"/>
<circle cx="545.08" cy="655.34" r="2.2" fill="#2036e0"/>
<circle cx="554.84" cy="655.10" r="2.2" fill="#2036e0"/>
<circle cx="562.03" cy="654.86" r="2.2" fill="#2036e0"/>
<circle cx="577.50" cy="653.66" r="2.2" fill="#2036e0"/>
<circle cx="587.26" cy="651.74" r="2.2" fill="#2036e0"/>
<circle cx="594.46" cy="649.34" r="2.2" fill="#2036e0"/>
<circle cx="609.92" cy="637.82" r="2.2" fill="#2036e0"/>
<circle cx="619.68" cy="623.09" r="2.2" fill="#2036e0"/>
<circle cx="626.88" cy="605.64" r="2.2" fill="#2036e0"/>
<circle cx="642.35" cy="550.55" r="2.2" fill="#2036e0"/>
<circle cx="652.11" cy="502.05" r="2.2" fill="#2036e0"/>
<circle cx="659.30" cy="458.31" r="2.2" fill="#2036e0"/>
<circle cx="367.50" cy="656.30" r="2.2" fill="#ff0000"/>
<circle cx="382.97" cy="656.30" r="2.2" fill="#ff0000"/>
<circle cx="392.73" cy="656.30" r="2.2" fill="#ff0000"/>
<circle cx="399.92" cy="656.30" r="2.2" fill="#ff0000"/>
<circle cx="415.39" cy="656.30" r="2.2" fill="#ff0000"/>
<circle cx="425.15" cy="656.30" r="2.2" fill="#ff0000"/>
<circle cx="432.34" cy="656.30" r="2.2" fill="#ff0000"/>
<circle cx="447.81" cy="656.06" r="2.2" fill="#ff0000"/>
<circle cx="457.57" cy="655.82" r="2.2" fill="#ff0000"/>
<circle cx="464.77" cy="655.58" r="2.2" fill="#ff0000"/>
<circle cx="480.24" cy="654.38" r="2.2" fill="#ff0000"/>
<circle cx="490.00" cy="653.90" r="2.2" fill="#ff0000"/>
<circle cx="497.19" cy="652.70" r="2.2" fill="#ff0000"/>
<circle cx="512.66" cy="647.66" r="2.2" fill="#ff0000"/>
<circle cx="522.42" cy="643.34" r="2.2" fill="#ff0000"/>
<circle cx="529.61" cy="640.22" r="2.2" fill="#ff0000"/>
<circle cx="545.08" cy="632.78" r="2.2" fill="#ff0000"/>
<circle cx="554.84" cy="630.06" r="2.2" fill="#ff0000"/>
<circle cx="562.03" cy="627.82" r="2.2" fill="#ff0000"/>
<circle cx="577.50" cy="621.84" r="2.2" fill="#ff0000"/>
<circle cx="587.26" cy="615.12" r="2.2" fill="#ff0000"/>
<circle cx="594.46" cy="607.90" r="2.2" fill="#ff0000"/>
<circle cx="609.92" cy="588.07" r="2.2" fill="#ff0000"/>
<circle cx="619.68" cy="572.30" r="2.2" fill="#ff0000"/>
<circle cx="626.88" cy="559.12" r="2.2" fill="#ff0000"/>
<circle cx="642.35" cy="522.94" r="2.2" fill="#ff0000"/>
<circle cx="652.11" cy="491.39" r="2.2" fill="#ff0000"/>
<circle cx="659.30" cy="463.53" r="2.2" fill="#ff0000"/>
<circle cx="367.50" cy="656.30" r="2.2" fill="#000000"/>
<circle cx="382.97" cy="656.30" r="2.2" fill="#000000"/>
<circle cx="392.73" cy="656.30" r="2.2" fill="#000000"/>
<circle cx="399.92" cy="656.30" r="2.2" fill="#000000"/>
<circle cx="415.39" cy="656.30" r="2.2" fill="#000000"/>
<circle cx="425.15" cy="656.06" r="2.2" fill="#000000"/>
<circle cx="432.34" cy="655.34" r="2.2" fill="#000000"/>
<circle cx="447.81" cy="653.66" r="2.2" fill="#000000"/>
<circle cx="457.57" cy="652.22" r="2.2" fill="#000000"/>
<circle cx="464.77" cy="650.06" r="2.2" fill="#000000"/>
<circle cx="480.24" cy="645.02" r="2.2" fill="#000000"/>
<circle cx="490.00" cy="640.94" r="2.2" fill="#000000"/>
<circle cx="497.19" cy="637.10" r="2.2" fill="#000000"/>
<circle cx="512.66" cy="627.07" r="2.2" fill="#000000"/>
<circle cx="522.42" cy="616.61" r="2.2" fill="#000000"/>
<circle cx="529.61" cy="606.40" r="2.2" fill="#000000"/>
<circle cx="545.08" cy="576.93" r="2.2" fill="#000000"/>
<circle cx="554.84" cy="556.67" r="2.2" fill="#000000"/>
<circle cx="562.03" cy="541.49" r="2.2" fill="#000000"/>
<circle cx="577.50" cy="513.23" r="2.2" fill="#000000"/>
<circle cx="587.26" cy="498.08" r="2.2" fill="#000000"/>
<circle cx="594.46" cy="488.16" r="2.2" fill="#000000"/>
<circle cx="609.92" cy="470.00" r="2.2" fill="#000000"/>
<circle cx="619.68" cy="459.80" r="2.2" fill="#000000"/>
<circle cx="626.88" cy="452.68" r="2.2" fill="#000000"/>
<circle cx="642.35" cy="438.47" r="2.2" fill="#000000"/>
<circle cx="652.11" cy="431.80" r="2.2" fill="#000000"/>
<circle cx="659.30" cy="428.30" r="2.2" fill="#000000"/>
<circle cx="367.50" cy="656.30" r="2.45" fill="#00b050"/>
<circle cx="382.97" cy="656.30" r="2.45" fill="#00b050"/>
<circle cx="392.73" cy="656.30" r="2.45" fill="#00b050"/>
<circle cx="399.92" cy="656.30" r="2.45" fill="#00b050"/>
<circle cx="415.39" cy="656.30" r="2.45" fill="#00b050"/>
<circle cx="425.15" cy="655.34" r="2.45" fill="#00b050"/>
<circle cx="432.34" cy="654.86" r="2.45" fill="#00b050"/>
<circle cx="447.81" cy="654.14" r="2.45" fill="#00b050"/>
<circle cx="457.57" cy="653.18" r="2.45" fill="#00b050"/>
<circle cx="464.77" cy="651.98" r="2.45" fill="#00b050"/>
<circle cx="480.24" cy="648.62" r="2.45" fill="#00b050"/>
<circle cx="490.00" cy="646.22" r="2.45" fill="#00b050"/>
<circle cx="497.19" cy="644.06" r="2.45" fill="#00b050"/>
<circle cx="512.66" cy="640.70" r="2.45" fill="#00b050"/>
<circle cx="522.42" cy="638.54" r="2.45" fill="#00b050"/>
<circle cx="529.61" cy="636.38" r="2.45" fill="#00b050"/>
<circle cx="545.08" cy="628.56" r="2.45" fill="#00b050"/>
<circle cx="554.84" cy="620.35" r="2.45" fill="#00b050"/>
<circle cx="562.03" cy="612.13" r="2.45" fill="#00b050"/>
<circle cx="577.50" cy="588.83" r="2.45" fill="#00b050"/>
<circle cx="587.26" cy="573.52" r="2.45" fill="#00b050"/>
<circle cx="594.46" cy="560.34" r="2.45" fill="#00b050"/>
<circle cx="609.92" cy="531.16" r="2.45" fill="#00b050"/>
<circle cx="619.68" cy="510.99" r="2.45" fill="#00b050"/>
<circle cx="626.88" cy="496.10" r="2.45" fill="#00b050"/>
<circle cx="642.35" cy="465.02" r="2.45" fill="#00b050"/>
<circle cx="652.11" cy="446.06" r="2.45" fill="#00b050"/>
<circle cx="659.30" cy="433.30" r="2.45" fill="#00b050"/>
<line x1="364.70" y1="656.30" x2="367.5" y2="656.30" stroke="#222" stroke-width="0.7"/>
<line x1="365.50" y1="651.50" x2="367.5" y2="651.50" stroke="#222" stroke-width="0.7"/>
<line x1="365.50" y1="646.70" x2="367.5" y2="646.70" stroke="#222" stroke-width="0.7"/>
<line x1="365.50" y1="641.90" x2="367.5" y2="641.90" stroke="#222" stroke-width="0.7"/>
<line x1="365.50" y1="637.10" x2="367.5" y2="637.10" stroke="#222" stroke-width="0.7"/>
<line x1="364.70" y1="632.30" x2="367.5" y2="632.30" stroke="#222" stroke-width="0.7"/>
<line x1="365.50" y1="627.32" x2="367.5" y2="627.32" stroke="#222" stroke-width="0.7"/>
<line x1="365.50" y1="622.34" x2="367.5" y2="622.34" stroke="#222" stroke-width="0.7"/>
<line x1="365.50" y1="617.36" x2="367.5" y2="617.36" stroke="#222" stroke-width="0.7"/>
<line x1="365.50" y1="612.38" x2="367.5" y2="612.38" stroke="#222" stroke-width="0.7"/>
<line x1="364.70" y1="607.40" x2="367.5" y2="607.40" stroke="#222" stroke-width="0.7"/>
<line x1="365.50" y1="602.38" x2="367.5" y2="602.38" stroke="#222" stroke-width="0.7"/>
<line x1="365.50" y1="597.36" x2="367.5" y2="597.36" stroke="#222" stroke-width="0.7"/>
<line x1="365.50" y1="592.34" x2="367.5" y2="592.34" stroke="#222" stroke-width="0.7"/>
<line x1="365.50" y1="587.32" x2="367.5" y2="587.32" stroke="#222" stroke-width="0.7"/>
<line x1="364.70" y1="582.30" x2="367.5" y2="582.30" stroke="#222" stroke-width="0.7"/>
<line x1="365.50" y1="577.42" x2="367.5" y2="577.42" stroke="#222" stroke-width="0.7"/>
<line x1="365.50" y1="572.54" x2="367.5" y2="572.54" stroke="#222" stroke-width="0.7"/>
<line x1="365.50" y1="567.66" x2="367.5" y2="567.66" stroke="#222" stroke-width="0.7"/>
<line x1="365.50" y1="562.78" x2="367.5" y2="562.78" stroke="#222" stroke-width="0.7"/>
<line x1="364.70" y1="557.90" x2="367.5" y2="557.90" stroke="#222" stroke-width="0.7"/>
<line x1="365.50" y1="553.00" x2="367.5" y2="553.00" stroke="#222" stroke-width="0.7"/>
<line x1="365.50" y1="548.10" x2="367.5" y2="548.10" stroke="#222" stroke-width="0.7"/>
<line x1="365.50" y1="543.20" x2="367.5" y2="543.20" stroke="#222" stroke-width="0.7"/>
<line x1="365.50" y1="538.30" x2="367.5" y2="538.30" stroke="#222" stroke-width="0.7"/>
<line x1="364.70" y1="533.40" x2="367.5" y2="533.40" stroke="#222" stroke-width="0.7"/>
<line x1="365.50" y1="528.42" x2="367.5" y2="528.42" stroke="#222" stroke-width="0.7"/>
<line x1="365.50" y1="523.44" x2="367.5" y2="523.44" stroke="#222" stroke-width="0.7"/>
<line x1="365.50" y1="518.46" x2="367.5" y2="518.46" stroke="#222" stroke-width="0.7"/>
<line x1="365.50" y1="513.48" x2="367.5" y2="513.48" stroke="#222" stroke-width="0.7"/>
<line x1="364.70" y1="508.50" x2="367.5" y2="508.50" stroke="#222" stroke-width="0.7"/>
<line x1="365.50" y1="503.54" x2="367.5" y2="503.54" stroke="#222" stroke-width="0.7"/>
<line x1="365.50" y1="498.58" x2="367.5" y2="498.58" stroke="#222" stroke-width="0.7"/>
<line x1="365.50" y1="493.62" x2="367.5" y2="493.62" stroke="#222" stroke-width="0.7"/>
<line x1="365.50" y1="488.66" x2="367.5" y2="488.66" stroke="#222" stroke-width="0.7"/>
<line x1="364.70" y1="483.70" x2="367.5" y2="483.70" stroke="#222" stroke-width="0.7"/>
<line x1="365.50" y1="478.72" x2="367.5" y2="478.72" stroke="#222" stroke-width="0.7"/>
<line x1="365.50" y1="473.74" x2="367.5" y2="473.74" stroke="#222" stroke-width="0.7"/>
<line x1="365.50" y1="468.76" x2="367.5" y2="468.76" stroke="#222" stroke-width="0.7"/>
<line x1="365.50" y1="463.78" x2="367.5" y2="463.78" stroke="#222" stroke-width="0.7"/>
<line x1="364.70" y1="458.80" x2="367.5" y2="458.80" stroke="#222" stroke-width="0.7"/>
<line x1="365.50" y1="453.90" x2="367.5" y2="453.90" stroke="#222" stroke-width="0.7"/>
<line x1="365.50" y1="449.00" x2="367.5" y2="449.00" stroke="#222" stroke-width="0.7"/>
<line x1="365.50" y1="444.10" x2="367.5" y2="444.10" stroke="#222" stroke-width="0.7"/>
<line x1="365.50" y1="439.20" x2="367.5" y2="439.20" stroke="#222" stroke-width="0.7"/>
<line x1="364.70" y1="434.30" x2="367.5" y2="434.30" stroke="#222" stroke-width="0.7"/>
<line x1="365.50" y1="429.30" x2="367.5" y2="429.30" stroke="#222" stroke-width="0.7"/>
<line x1="365.50" y1="424.30" x2="367.5" y2="424.30" stroke="#222" stroke-width="0.7"/>
<line x1="365.50" y1="419.30" x2="367.5" y2="419.30" stroke="#222" stroke-width="0.7"/>
<line x1="365.50" y1="414.30" x2="367.5" y2="414.30" stroke="#222" stroke-width="0.7"/>
<line x1="364.70" y1="409.30" x2="367.5" y2="409.30" stroke="#222" stroke-width="0.7"/>
<text x="361.20" y="658.50" font-family='"Liberation Serif", serif' font-size="6.5" fill="#222" text-anchor="end" stroke="#333" stroke-width="0.25">0.0</text>
<text x="361.20" y="634.50" font-family='"Liberation Serif", serif' font-size="6.5" fill="#222" text-anchor="end" stroke="#333" stroke-width="0.25">0.1</text>
<text x="361.20" y="609.60" font-family='"Liberation Serif", serif' font-size="6.5" fill="#222" text-anchor="end" stroke="#333" stroke-width="0.25">0.2</text>
<text x="361.20" y="584.50" font-family='"Liberation Serif", serif' font-size="6.5" fill="#222" text-anchor="end" stroke="#333" stroke-width="0.25">0.3</text>
<text x="361.20" y="560.10" font-family='"Liberation Serif", serif' font-size="6.5" fill="#222" text-anchor="end" stroke="#333" stroke-width="0.25">0.4</text>
<text x="361.20" y="535.60" font-family='"Liberation Serif", serif' font-size="6.5" fill="#222" text-anchor="end" stroke="#333" stroke-width="0.25">0.5</text>
<text x="361.20" y="510.70" font-family='"Liberation Serif", serif' font-size="6.5" fill="#222" text-anchor="end" stroke="#333" stroke-width="0.25">0.6</text>
<text x="361.20" y="485.90" font-family='"Liberation Serif", serif' font-size="6.5" fill="#222" text-anchor="end" stroke="#333" stroke-width="0.25">0.7</text>
<text x="361.20" y="461.00" font-family='"Liberation Serif", serif' font-size="6.5" fill="#222" text-anchor="end" stroke="#333" stroke-width="0.25">0.8</text>
<text x="361.20" y="436.50" font-family='"Liberation Serif", serif' font-size="6.5" fill="#222" text-anchor="end" stroke="#333" stroke-width="0.25">0.9</text>
<text x="361.20" y="411.50" font-family='"Liberation Serif", serif' font-size="6.5" fill="#222" text-anchor="end" stroke="#333" stroke-width="0.25">1.0</text>
<line x1="367.50" y1="656.3" x2="367.50" y2="658.9" stroke="#222" stroke-width="0.7"/>
<line x1="377.26" y1="656.3" x2="377.26" y2="657.9" stroke="#222" stroke-width="0.6"/>
<line x1="382.97" y1="656.3" x2="382.97" y2="657.9" stroke="#222" stroke-width="0.6"/>
<line x1="387.02" y1="656.3" x2="387.02" y2="657.9" stroke="#222" stroke-width="0.6"/>
<line x1="390.16" y1="656.3" x2="390.16" y2="657.9" stroke="#222" stroke-width="0.6"/>
<line x1="392.73" y1="656.3" x2="392.73" y2="657.9" stroke="#222" stroke-width="0.6"/>
<line x1="394.90" y1="656.3" x2="394.90" y2="657.9" stroke="#222" stroke-width="0.6"/>
<line x1="396.78" y1="656.3" x2="396.78" y2="657.9" stroke="#222" stroke-width="0.6"/>
<line x1="398.44" y1="656.3" x2="398.44" y2="657.9" stroke="#222" stroke-width="0.6"/>
<text x="358.80" y="667.50" font-family='"Liberation Serif", serif' font-size="8.2" fill="#222" textLength="17.40" lengthAdjust="spacingAndGlyphs" stroke="#333" stroke-width="0.2">1.E-09</text>
<line x1="399.92" y1="656.3" x2="399.92" y2="658.9" stroke="#222" stroke-width="0.7"/>
<line x1="409.68" y1="656.3" x2="409.68" y2="657.9" stroke="#222" stroke-width="0.6"/>
<line x1="415.39" y1="656.3" x2="415.39" y2="657.9" stroke="#222" stroke-width="0.6"/>
<line x1="419.44" y1="656.3" x2="419.44" y2="657.9" stroke="#222" stroke-width="0.6"/>
<line x1="422.58" y1="656.3" x2="422.58" y2="657.9" stroke="#222" stroke-width="0.6"/>
<line x1="425.15" y1="656.3" x2="425.15" y2="657.9" stroke="#222" stroke-width="0.6"/>
<line x1="427.32" y1="656.3" x2="427.32" y2="657.9" stroke="#222" stroke-width="0.6"/>
<line x1="429.20" y1="656.3" x2="429.20" y2="657.9" stroke="#222" stroke-width="0.6"/>
<line x1="430.86" y1="656.3" x2="430.86" y2="657.9" stroke="#222" stroke-width="0.6"/>
<text x="391.22" y="667.50" font-family='"Liberation Serif", serif' font-size="8.2" fill="#222" textLength="17.40" lengthAdjust="spacingAndGlyphs" stroke="#333" stroke-width="0.2">1.E-08</text>
<line x1="432.34" y1="656.3" x2="432.34" y2="658.9" stroke="#222" stroke-width="0.7"/>
<line x1="442.10" y1="656.3" x2="442.10" y2="657.9" stroke="#222" stroke-width="0.6"/>
<line x1="447.81" y1="656.3" x2="447.81" y2="657.9" stroke="#222" stroke-width="0.6"/>
<line x1="451.86" y1="656.3" x2="451.86" y2="657.9" stroke="#222" stroke-width="0.6"/>
<line x1="455.01" y1="656.3" x2="455.01" y2="657.9" stroke="#222" stroke-width="0.6"/>
<line x1="457.57" y1="656.3" x2="457.57" y2="657.9" stroke="#222" stroke-width="0.6"/>
<line x1="459.74" y1="656.3" x2="459.74" y2="657.9" stroke="#222" stroke-width="0.6"/>
<line x1="461.62" y1="656.3" x2="461.62" y2="657.9" stroke="#222" stroke-width="0.6"/>
<line x1="463.28" y1="656.3" x2="463.28" y2="657.9" stroke="#222" stroke-width="0.6"/>
<text x="423.64" y="667.50" font-family='"Liberation Serif", serif' font-size="8.2" fill="#222" textLength="17.40" lengthAdjust="spacingAndGlyphs" stroke="#333" stroke-width="0.2">1.E-07</text>
<line x1="464.77" y1="656.3" x2="464.77" y2="658.9" stroke="#222" stroke-width="0.7"/>
<line x1="474.53" y1="656.3" x2="474.53" y2="657.9" stroke="#222" stroke-width="0.6"/>
<line x1="480.24" y1="656.3" x2="480.24" y2="657.9" stroke="#222" stroke-width="0.6"/>
<line x1="484.29" y1="656.3" x2="484.29" y2="657.9" stroke="#222" stroke-width="0.6"/>
<line x1="487.43" y1="656.3" x2="487.43" y2="657.9" stroke="#222" stroke-width="0.6"/>
<line x1="490.00" y1="656.3" x2="490.00" y2="657.9" stroke="#222" stroke-width="0.6"/>
<line x1="492.17" y1="656.3" x2="492.17" y2="657.9" stroke="#222" stroke-width="0.6"/>
<line x1="494.05" y1="656.3" x2="494.05" y2="657.9" stroke="#222" stroke-width="0.6"/>
<line x1="495.71" y1="656.3" x2="495.71" y2="657.9" stroke="#222" stroke-width="0.6"/>
<text x="456.07" y="667.50" font-family='"Liberation Serif", serif' font-size="8.2" fill="#222" textLength="17.40" lengthAdjust="spacingAndGlyphs" stroke="#333" stroke-width="0.2">1.E-06</text>
<line x1="497.19" y1="656.3" x2="497.19" y2="658.9" stroke="#222" stroke-width="0.7"/>
<line x1="506.95" y1="656.3" x2="506.95" y2="657.9" stroke="#222" stroke-width="0.6"/>
<line x1="512.66" y1="656.3" x2="512.66" y2="657.9" stroke="#222" stroke-width="0.6"/>
<line x1="516.71" y1="656.3" x2="516.71" y2="657.9" stroke="#222" stroke-width="0.6"/>
<line x1="519.85" y1="656.3" x2="519.85" y2="657.9" stroke="#222" stroke-width="0.6"/>
<line x1="522.42" y1="656.3" x2="522.42" y2="657.9" stroke="#222" stroke-width="0.6"/>
<line x1="524.59" y1="656.3" x2="524.59" y2="657.9" stroke="#222" stroke-width="0.6"/>
<line x1="526.47" y1="656.3" x2="526.47" y2="657.9" stroke="#222" stroke-width="0.6"/>
<line x1="528.13" y1="656.3" x2="528.13" y2="657.9" stroke="#222" stroke-width="0.6"/>
<text x="488.49" y="667.50" font-family='"Liberation Serif", serif' font-size="8.2" fill="#222" textLength="17.40" lengthAdjust="spacingAndGlyphs" stroke="#333" stroke-width="0.2">1.E-05</text>
<line x1="529.61" y1="656.3" x2="529.61" y2="658.9" stroke="#222" stroke-width="0.7"/>
<line x1="539.37" y1="656.3" x2="539.37" y2="657.9" stroke="#222" stroke-width="0.6"/>
<line x1="545.08" y1="656.3" x2="545.08" y2="657.9" stroke="#222" stroke-width="0.6"/>
<line x1="549.13" y1="656.3" x2="549.13" y2="657.9" stroke="#222" stroke-width="0.6"/>
<line x1="552.27" y1="656.3" x2="552.27" y2="657.9" stroke="#222" stroke-width="0.6"/>
<line x1="554.84" y1="656.3" x2="554.84" y2="657.9" stroke="#222" stroke-width="0.6"/>
<line x1="557.01" y1="656.3" x2="557.01" y2="657.9" stroke="#222" stroke-width="0.6"/>
<line x1="558.89" y1="656.3" x2="558.89" y2="657.9" stroke="#222" stroke-width="0.6"/>
<line x1="560.55" y1="656.3" x2="560.55" y2="657.9" stroke="#222" stroke-width="0.6"/>
<text x="520.91" y="667.50" font-family='"Liberation Serif", serif' font-size="8.2" fill="#222" textLength="17.40" lengthAdjust="spacingAndGlyphs" stroke="#333" stroke-width="0.2">1.E-04</text>
<line x1="562.03" y1="656.3" x2="562.03" y2="658.9" stroke="#222" stroke-width="0.7"/>
<line x1="571.79" y1="656.3" x2="571.79" y2="657.9" stroke="#222" stroke-width="0.6"/>
<line x1="577.50" y1="656.3" x2="577.50" y2="657.9" stroke="#222" stroke-width="0.6"/>
<line x1="581.55" y1="656.3" x2="581.55" y2="657.9" stroke="#222" stroke-width="0.6"/>
<line x1="584.70" y1="656.3" x2="584.70" y2="657.9" stroke="#222" stroke-width="0.6"/>
<line x1="587.26" y1="656.3" x2="587.26" y2="657.9" stroke="#222" stroke-width="0.6"/>
<line x1="589.43" y1="656.3" x2="589.43" y2="657.9" stroke="#222" stroke-width="0.6"/>
<line x1="591.31" y1="656.3" x2="591.31" y2="657.9" stroke="#222" stroke-width="0.6"/>
<line x1="592.97" y1="656.3" x2="592.97" y2="657.9" stroke="#222" stroke-width="0.6"/>
<text x="553.33" y="667.50" font-family='"Liberation Serif", serif' font-size="8.2" fill="#222" textLength="17.40" lengthAdjust="spacingAndGlyphs" stroke="#333" stroke-width="0.2">1.E-03</text>
<line x1="594.46" y1="656.3" x2="594.46" y2="658.9" stroke="#222" stroke-width="0.7"/>
<line x1="604.22" y1="656.3" x2="604.22" y2="657.9" stroke="#222" stroke-width="0.6"/>
<line x1="609.92" y1="656.3" x2="609.92" y2="657.9" stroke="#222" stroke-width="0.6"/>
<line x1="613.98" y1="656.3" x2="613.98" y2="657.9" stroke="#222" stroke-width="0.6"/>
<line x1="617.12" y1="656.3" x2="617.12" y2="657.9" stroke="#222" stroke-width="0.6"/>
<line x1="619.68" y1="656.3" x2="619.68" y2="657.9" stroke="#222" stroke-width="0.6"/>
<line x1="621.86" y1="656.3" x2="621.86" y2="657.9" stroke="#222" stroke-width="0.6"/>
<line x1="623.74" y1="656.3" x2="623.74" y2="657.9" stroke="#222" stroke-width="0.6"/>
<line x1="625.39" y1="656.3" x2="625.39" y2="657.9" stroke="#222" stroke-width="0.6"/>
<text x="585.76" y="667.50" font-family='"Liberation Serif", serif' font-size="8.2" fill="#222" textLength="17.40" lengthAdjust="spacingAndGlyphs" stroke="#333" stroke-width="0.2">1.E-02</text>
<line x1="626.88" y1="656.3" x2="626.88" y2="658.9" stroke="#222" stroke-width="0.7"/>
<line x1="636.64" y1="656.3" x2="636.64" y2="657.9" stroke="#222" stroke-width="0.6"/>
<line x1="642.35" y1="656.3" x2="642.35" y2="657.9" stroke="#222" stroke-width="0.6"/>
<line x1="646.40" y1="656.3" x2="646.40" y2="657.9" stroke="#222" stroke-width="0.6"/>
<line x1="649.54" y1="656.3" x2="649.54" y2="657.9" stroke="#222" stroke-width="0.6"/>
<line x1="652.11" y1="656.3" x2="652.11" y2="657.9" stroke="#222" stroke-width="0.6"/>
<line x1="654.28" y1="656.3" x2="654.28" y2="657.9" stroke="#222" stroke-width="0.6"/>
<line x1="656.16" y1="656.3" x2="656.16" y2="657.9" stroke="#222" stroke-width="0.6"/>
<line x1="657.82" y1="656.3" x2="657.82" y2="657.9" stroke="#222" stroke-width="0.6"/>
<text x="618.18" y="667.50" font-family='"Liberation Serif", serif' font-size="8.2" fill="#222" textLength="17.40" lengthAdjust="spacingAndGlyphs" stroke="#333" stroke-width="0.2">1.E-01</text>
<line x1="659.30" y1="656.3" x2="659.30" y2="658.9" stroke="#222" stroke-width="0.7"/>
<text x="650.60" y="667.50" font-family='"Liberation Serif", serif' font-size="8.2" fill="#222" textLength="17.40" lengthAdjust="spacingAndGlyphs" stroke="#333" stroke-width="0.2">1.E+00</text>
<line x1="399.7" y1="448.2" x2="408" y2="448.2" stroke="#5b9bd5" stroke-width="1.3"/>
<circle cx="405.7" cy="448.2" r="2.1" fill="#2036e0"/>
<text x="412.1" y="451.4" font-family='"Liberation Serif", serif' font-size="9.3" fill="#333" xml:space="preserve">Σ3  - {111}</text>
<line x1="399.7" y1="461.4" x2="408" y2="461.4" stroke="#000" stroke-width="1.3"/>
<circle cx="405.7" cy="461.4" r="2.1" fill="#000"/>
<text x="412.1" y="464.6" font-family='"Liberation Serif", serif' font-size="9.3" fill="#333" xml:space="preserve">Σ5   - {310}</text>
<line x1="399.7" y1="474.1" x2="408" y2="474.1" stroke="#ff0000" stroke-width="1.3"/>
<circle cx="405.7" cy="474.1" r="2.1" fill="#ff0000"/>
<text x="412.1" y="477.3" font-family='"Liberation Serif", serif' font-size="9.3" fill="#333" xml:space="preserve">Σ11  - {311}</text>
<line x1="399.7" y1="487.1" x2="408" y2="487.1" stroke="#00b050" stroke-width="1.3"/>
<circle cx="405.7" cy="487.1" r="2.1" fill="#00b050"/>
<text x="412.1" y="490.3" font-family='"Liberation Serif", serif' font-size="9.3" fill="#333" xml:space="preserve">Σ11  - {332}</text>
<text x="492.1" y="682.3" font-family='"Liberation Serif", serif' font-size="9.6" fill="#333">C<tspan font-size="6" dy="2">H</tspan><tspan dy="-2"> (bulk)</tspan></text>
<text transform="translate(344.9,541.3) rotate(-90) scale(0.95,1)" font-family='"Liberation Serif", serif' font-size="9.6" fill="#333">C<tspan font-size="6" dy="2">H</tspan><tspan dy="-2"> (GB)</tspan></text>
<text x="506.60" y="709.60" font-family='"Liberation Serif", serif' font-size="13.8" fill="#000" textLength="15.00" lengthAdjust="spacingAndGlyphs" >(c)</text>
<path d="M315.8,0 Q316.6,2.3 320.2,2.2" stroke="#151515" stroke-width="1.7" fill="none"/>
<path d="M362.6,0 Q361.8,2.3 358.6,2.2" stroke="#151515" stroke-width="1.7" fill="none"/>
</svg>
</body></html>
